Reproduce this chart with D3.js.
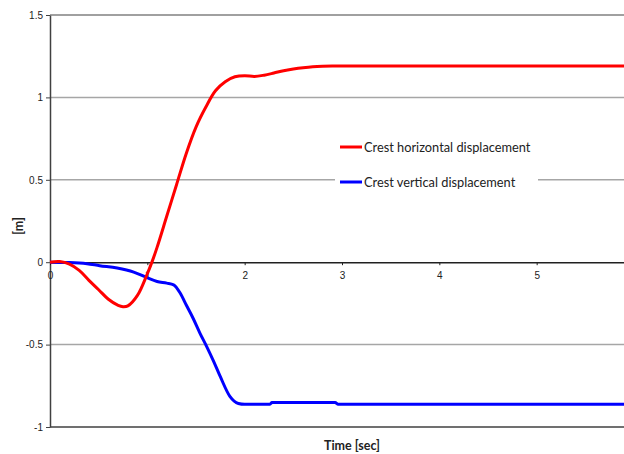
<!DOCTYPE html>
<html>
<head>
<meta charset="utf-8">
<script src="https://cdn.jsdelivr.net/npm/d3@7"></script>
<style>
  html, body { margin: 0; padding: 0; background: #fff; }
  svg { display: block; }
</style>
</head>
<body>
<svg id="chart" width="624" height="454"></svg>
<script>
// Crest displacement time histories
const timeH = [0, 0.1, 0.2, 0.3, 0.4, 0.5, 0.6, 0.7, 0.75, 0.8, 0.9, 1.0, 1.05, 1.1, 1.2, 1.3, 1.4, 1.5, 1.6, 1.7, 1.8, 1.9, 2.0, 2.1, 2.2, 2.3, 2.4, 2.5, 2.6, 2.7, 2.8, 2.9, 3.5, 4.5, 5.5, 6.0];
const horizontal = [0, 0.004, -0.012, -0.05, -0.11, -0.167, -0.225, -0.262, -0.27, -0.265, -0.2, -0.07, 0.005, 0.09, 0.28, 0.47, 0.66, 0.82, 0.94, 1.04, 1.095, 1.125, 1.132, 1.127, 1.135, 1.148, 1.162, 1.172, 1.18, 1.186, 1.189, 1.19, 1.19, 1.19, 1.19, 1.19];

const timeV = [0, 0.2, 0.38, 0.51, 0.69, 0.86, 0.99, 1.1, 1.2, 1.27, 1.34, 1.4, 1.47, 1.54, 1.61, 1.68, 1.75, 1.85, 1.935, 2.0, 2.26, 2.28, 2.93, 2.96, 4.0, 5.0, 6.0];
const vertical = [0, -0.002, -0.009, -0.021, -0.035, -0.06, -0.092, -0.117, -0.127, -0.137, -0.19, -0.26, -0.34, -0.43, -0.512, -0.6, -0.695, -0.816, -0.857, -0.862, -0.862, -0.852, -0.852, -0.862, -0.862, -0.862, -0.862];

const yTicks = [1.5, 1, 0.5, 0, -0.5, -1];
const yTickLabels = ["1.5", "1", "0.5", "0", "-0.5", "-1"];
const xTicks = [0, 1, 2, 3, 4, 5];
const xTickLabels = ["0", "1", "2", "3", "4", "5"];

const seriesNames = ["Crest horizontal displacement", "Crest vertical displacement"];
const seriesColors = ["#ff0000", "#0000ff"];

const svg = d3.select("#chart");

const x = d3.scaleLinear().domain([0, 6]).range([50, 634]);
const y = d3.scaleLinear().domain([-1, 1.5]).range([427, 15]);

const tickFont = "'Liberation Sans', Arial, sans-serif";
const labelFont = "Lato, 'Open Sans', sans-serif";

// horizontal gridlines
svg.append("g")
  .selectAll("line")
  .data([1, 0.5, -0.5])
  .join("line")
  .attr("x1", x(0)).attr("x2", 624)
  .attr("y1", d => y(d)).attr("y2", d => y(d))
  .attr("stroke", "#a6a6a6").attr("stroke-width", 1.5);

// top and bottom frame lines
svg.append("line")
  .attr("x1", x(0)).attr("x2", 624)
  .attr("y1", y(1.5)).attr("y2", y(1.5))
  .attr("stroke", "#808080").attr("stroke-width", 1.5);
svg.append("line")
  .attr("x1", x(0)).attr("x2", 624)
  .attr("y1", y(-1)).attr("y2", y(-1))
  .attr("stroke", "#404040").attr("stroke-width", 1.5);

// y axis
const yAxis = d3.axisLeft(y)
  .tickValues(yTicks)
  .tickFormat((d, i) => yTickLabels[i])
  .tickSize(4)
  .tickSizeOuter(0);
const gy = svg.append("g").attr("transform", `translate(${x(0)},0)`).call(yAxis);
gy.select(".domain").attr("stroke", "#404040").attr("stroke-width", 1.5);
gy.selectAll(".tick line").attr("stroke", "#404040");
gy.selectAll(".tick text")
  .attr("x", -7)
  .attr("fill", "#222")
  .style("font-family", tickFont)
  .style("font-size", "10px");

// x axis along zero
const xAxis = d3.axisBottom(x)
  .tickValues(xTicks)
  .tickFormat((d, i) => xTickLabels[i])
  .tickSize(3)
  .tickSizeOuter(0);
const gx = svg.append("g").attr("transform", `translate(0,${y(0)})`).call(xAxis);
gx.select(".domain").attr("stroke", "#202020").attr("stroke-width", 1.5);
gx.selectAll(".tick line").attr("stroke", "#202020");
gx.selectAll(".tick text")
  .attr("y", 10)
  .attr("fill", "#222")
  .style("font-family", tickFont)
  .style("font-size", "10px");

// series lines: smooth spline for the horizontal trace, shape-preserving for
// the vertical trace so its small steps stay flat
const lineH = d3.line()
  .x(d => x(d[0]))
  .y(d => y(d[1]))
  .curve(d3.curveCatmullRom.alpha(0.5));
const lineV = d3.line()
  .x(d => x(d[0]))
  .y(d => y(d[1]))
  .curve(d3.curveMonotoneX);

const series = [
  d3.zip(timeH, horizontal),
  d3.zip(timeV, vertical)
];

// vertical trace first so the horizontal trace sits on top where they cross
svg.append("path")
  .datum(series[1])
  .attr("d", lineV)
  .attr("fill", "none")
  .attr("stroke", seriesColors[1])
  .attr("stroke-width", 3);
svg.append("path")
  .datum(series[0])
  .attr("d", lineH)
  .attr("fill", "none")
  .attr("stroke", seriesColors[0])
  .attr("stroke-width", 3);

// legend
const legend = svg.append("g");
legend.append("rect")
  .attr("x", 335).attr("y", 132)
  .attr("width", 203).attr("height", 62)
  .attr("fill", "#fff");
const legendRows = [147, 182];
seriesNames.forEach((name, i) => {
  legend.append("line")
    .attr("x1", 340).attr("x2", 362)
    .attr("y1", legendRows[i]).attr("y2", legendRows[i])
    .attr("stroke", seriesColors[i]).attr("stroke-width", 3);
  legend.append("text")
    .attr("x", 364).attr("y", legendRows[i] + 4.5)
    .attr("fill", "#222")
    .style("font-family", labelFont)
    .style("font-size", "12.8px")
    .text(name);
});

// axis titles
svg.append("text")
  .attr("x", 352).attr("y", 450)
  .attr("text-anchor", "middle")
  .attr("fill", "#222")
  .style("font-family", labelFont)
  .style("font-weight", "bold")
  .style("font-size", "12.5px")
  .text("Time [sec]");

svg.append("text")
  .attr("transform", "translate(23,226) rotate(-90)")
  .attr("text-anchor", "middle")
  .attr("fill", "#222")
  .style("font-family", labelFont)
  .style("font-weight", "bold")
  .style("font-size", "12.5px")
  .text("[m]");
</script>
</body>
</html>
